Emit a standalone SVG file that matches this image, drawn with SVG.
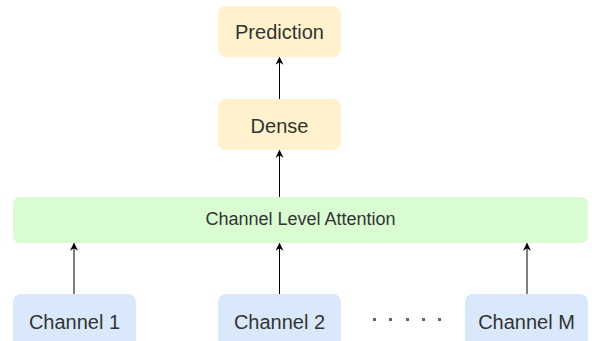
<svg xmlns="http://www.w3.org/2000/svg" width="592" height="341" viewBox="0 0 592 341">
<defs>
<marker id="ah" viewBox="0 0 10 10" refX="9" refY="5" markerWidth="8" markerHeight="8" markerUnits="userSpaceOnUse" orient="auto">
<path d="M0,0 L10,5 L0,10 L3,5 Z" fill="#000"/>
</marker>
<style>
.y{fill:#fff2cc}
.g{fill:#d9fcd3}
.b{fill:#dae8fc}
text{font-family:"Liberation Sans",Arial,sans-serif;fill:#333;text-anchor:middle;dominant-baseline:central}
.c{stroke:#000;stroke-width:1;fill:none;marker-end:url(#ah)}
</style>
</defs>
<rect width="592" height="341" fill="#fff"/>
<g id="prediction"><rect class="y" x="218" y="6" width="123" height="51" rx="8"/><text x="279.5" y="32" font-size="20">Prediction</text></g>
<g id="dense"><rect class="y" x="218" y="99" width="123" height="51" rx="8"/><text x="279.5" y="126" font-size="20">Dense</text></g>
<g id="attention"><rect class="g" x="13" y="197" width="575" height="46" rx="7"/><text x="300.5" y="219" font-size="18">Channel Level Attention</text></g>
<g id="channel1"><rect class="b" x="13" y="294" width="123" height="60" rx="8"/><text x="74.5" y="322" font-size="20">Channel 1</text></g>
<g id="channel2"><rect class="b" x="218" y="294" width="123" height="60" rx="8"/><text x="279.5" y="322" font-size="20">Channel 2</text></g>
<g id="channelM"><rect class="b" x="465" y="294" width="123" height="60" rx="8"/><text x="526.5" y="322" font-size="20">Channel M</text></g>
<g id="dots" fill="#666"><rect x="373" y="318" width="3" height="3"/><rect x="389" y="318" width="3" height="3"/><rect x="406" y="318" width="3" height="3"/><rect x="422" y="318" width="3" height="3"/><rect x="438" y="318" width="3" height="3"/></g>
<g id="connectors">
<line class="c" x1="279.5" y1="99" x2="279.5" y2="57.5"/>
<line class="c" x1="279.5" y1="197" x2="279.5" y2="150.5"/>
<line class="c" x1="74" y1="294" x2="74" y2="243.5"/>
<line class="c" x1="279.5" y1="294" x2="279.5" y2="243.5"/>
<line class="c" x1="527" y1="294" x2="527" y2="243.5"/>
</g>
</svg>
